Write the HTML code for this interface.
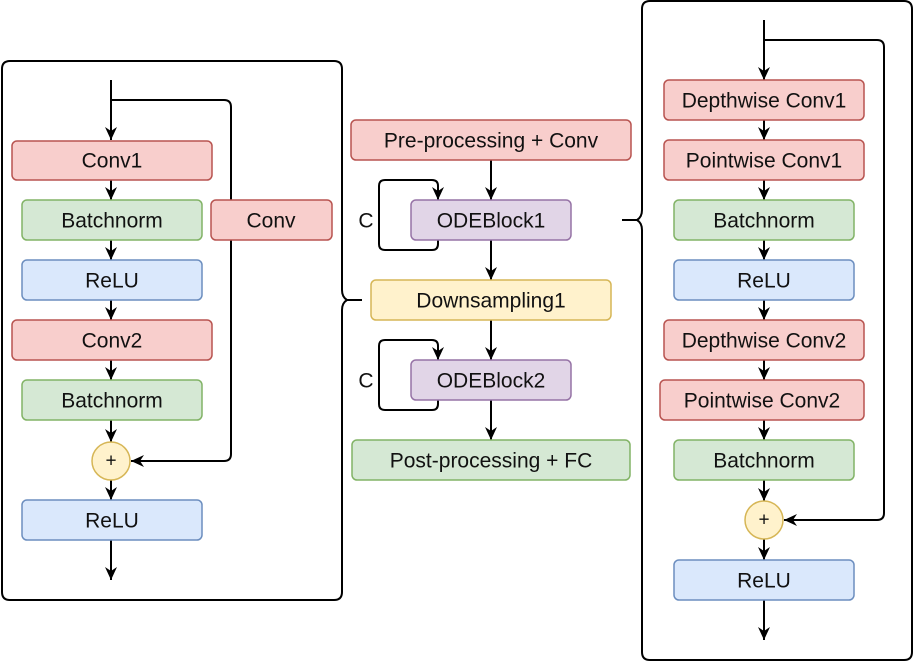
<!DOCTYPE html>
<html><head><style>
html,body{margin:0;padding:0;background:#fff;}
svg text{font-family:"Liberation Sans",sans-serif;font-size:21px;fill:#111;text-anchor:middle;dominant-baseline:central;}
</style></head><body>
<svg width="914" height="662" viewBox="0 0 914 662" xmlns="http://www.w3.org/2000/svg">
<defs>
<marker id="a" markerWidth="14" markerHeight="14" refX="13" refY="6" orient="auto" markerUnits="userSpaceOnUse">
<path d="M0,0 L13,6 L0,12 L4,6 z" fill="#000"/></marker>
</defs>
<g fill="none" stroke="#000" stroke-width="2">
<path d="M10,61 H334 Q342,61 342,69 V290 Q342,297 347,300 Q342,303 342,310 V592 Q342,600 334,600 H10 Q2,600 2,592 V69 Q2,61 10,61 Z"/>
<path d="M347,300 H362"/>
<path d="M650,1 H904 Q912,1 912,9 V652 Q912,660 904,660 H650 Q642,660 642,652 V230 Q642,223 637,220 Q642,217 642,210 V9 Q642,1 650,1 Z"/>
<path d="M637,220 H622"/>
</g>
<g stroke="#000" stroke-width="2" fill="none" marker-end="url(#a)">
<path d="M111,80 V140"/>
<path d="M111,180 V200"/>
<path d="M111,240 V260"/>
<path d="M111,300 V320"/>
<path d="M111,360 V380"/>
<path d="M111,420 V442"/>
<path d="M111,480 V500"/>
<path d="M111,540 V580"/>
<path d="M111,100 H224 Q231,100 231,107 V454 Q231,461 224,461 H131"/>
<path d="M491,160 V200"/>
<path d="M491,240 V280"/>
<path d="M491,320 V360"/>
<path d="M491,400 V440"/>
<path d="M438,240 V244 Q438,250 432,250 H385 Q379,250 379,244 V186 Q379,180 385,180 H432 Q438,180 438,186 V200"/>
<path d="M438,400 V404 Q438,410 432,410 H385 Q379,410 379,404 V346 Q379,340 385,340 H432 Q438,340 438,346 V360"/>
<path d="M764,20 V80"/>
<path d="M764,120 V140"/>
<path d="M764,180 V200"/>
<path d="M764,240 V260"/>
<path d="M764,300 V320"/>
<path d="M764,360 V380"/>
<path d="M764,420 V440"/>
<path d="M764,480 V501"/>
<path d="M764,539 V560"/>
<path d="M764,600 V640"/>
<path d="M764,40 H877 Q884,40 884,47 V513 Q884,520 877,520 H784"/>
</g>
<g stroke-width="1.5">
<rect x="12" y="141" width="200" height="39" rx="5" fill="#f8cecc" stroke="#b85450"/>
<rect x="22" y="200" width="180" height="40" rx="5" fill="#d5e8d4" stroke="#82b366"/>
<rect x="211" y="200" width="121" height="40" rx="5" fill="#f8cecc" stroke="#b85450"/>
<rect x="22" y="260" width="180" height="40" rx="5" fill="#dae8fc" stroke="#6c8ebf"/>
<rect x="12" y="320" width="200" height="40" rx="5" fill="#f8cecc" stroke="#b85450"/>
<rect x="22" y="380" width="180" height="40" rx="5" fill="#d5e8d4" stroke="#82b366"/>
<circle cx="111" cy="461" r="19" fill="#fff2cc" stroke="#d6b656"/>
<rect x="22" y="500" width="180" height="40" rx="5" fill="#dae8fc" stroke="#6c8ebf"/>
<rect x="351" y="120" width="280" height="40" rx="5" fill="#f8cecc" stroke="#b85450"/>
<rect x="411" y="200" width="160" height="40" rx="5" fill="#e1d5e7" stroke="#9673a6"/>
<rect x="371" y="280" width="240" height="40" rx="5" fill="#fff2cc" stroke="#d6b656"/>
<rect x="411" y="360" width="160" height="40" rx="5" fill="#e1d5e7" stroke="#9673a6"/>
<rect x="352" y="440" width="278" height="40" rx="5" fill="#d5e8d4" stroke="#82b366"/>
<rect x="664" y="80" width="200" height="40" rx="5" fill="#f8cecc" stroke="#b85450"/>
<rect x="664" y="140" width="200" height="40" rx="5" fill="#f8cecc" stroke="#b85450"/>
<rect x="674" y="200" width="180" height="40" rx="5" fill="#d5e8d4" stroke="#82b366"/>
<rect x="674" y="260" width="180" height="40" rx="5" fill="#dae8fc" stroke="#6c8ebf"/>
<rect x="664" y="320" width="200" height="40" rx="5" fill="#f8cecc" stroke="#b85450"/>
<rect x="660" y="380" width="204" height="40" rx="5" fill="#f8cecc" stroke="#b85450"/>
<rect x="674" y="440" width="180" height="40" rx="5" fill="#d5e8d4" stroke="#82b366"/>
<circle cx="764" cy="520" r="19" fill="#fff2cc" stroke="#d6b656"/>
<rect x="674" y="560" width="180" height="40" rx="5" fill="#dae8fc" stroke="#6c8ebf"/>
</g>
<text x="112" y="161">Conv1</text>
<text x="112" y="221">Batchnorm</text>
<text x="271" y="221">Conv</text>
<text x="112" y="281">ReLU</text>
<text x="112" y="341">Conv2</text>
<text x="112" y="401">Batchnorm</text>
<text x="111" y="461" style="font-size:19px">+</text>
<text x="112" y="521">ReLU</text>
<text x="491" y="141">Pre-processing + Conv</text>
<text x="491" y="221">ODEBlock1</text>
<text x="491" y="301">Downsampling1</text>
<text x="491" y="381">ODEBlock2</text>
<text x="491" y="461">Post-processing + FC</text>
<text x="366" y="221">C</text>
<text x="366" y="381">C</text>
<text x="764" y="101">Depthwise Conv1</text>
<text x="764" y="161">Pointwise Conv1</text>
<text x="764" y="221">Batchnorm</text>
<text x="764" y="281">ReLU</text>
<text x="764" y="341">Depthwise Conv2</text>
<text x="762" y="401">Pointwise Conv2</text>
<text x="764" y="461">Batchnorm</text>
<text x="764" y="520" style="font-size:19px">+</text>
<text x="764" y="581">ReLU</text>
</svg>
</body></html>
